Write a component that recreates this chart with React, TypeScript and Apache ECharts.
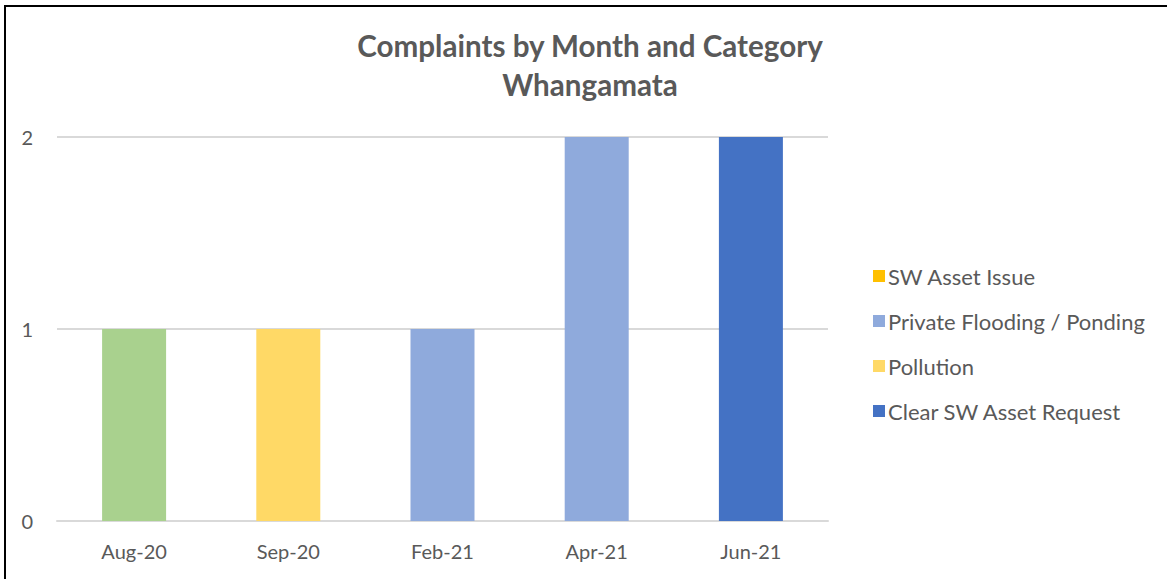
import React, { useEffect, useRef } from "react";
import * as echarts from "echarts";

const months = ["Aug-20", "Sep-20", "Feb-21", "Apr-21", "Jun-21"];
const otherCategory = [1, 0, 0, 0, 0];
const swAssetIssue = [0, 0, 0, 0, 0];
const privateFlooding = [0, 0, 1, 2, 0];
const pollution = [0, 1, 0, 0, 0];
const clearSwAssetRequest = [0, 0, 0, 0, 2];
const yTicks = [0, 1, 2];

const FONT = "Lato";
const TXT = "#595959";

export default function App() {
  const ref = useRef<HTMLDivElement>(null);
  useEffect(() => {
    const chart = echarts.init(ref.current!, null, { renderer: "svg" });
    const toData = (arr: number[]) => arr.map((v) => (v === 0 ? "-" : v));
    const mk = (name: string, arr: number[], color: string) => ({
      name,
      type: "bar",
      stack: "total",
      barWidth: 64,
      data: toData(arr),
      itemStyle: { color },
    });
    chart.setOption({
      animation: false,
      textStyle: { fontFamily: FONT },
      title: {
        text: "Complaints by Month and Category\nWhangamata",
        left: 585,
        textAlign: "center",
        top: 21,
        textStyle: {
          fontFamily: FONT,
          fontSize: 29.6,
          fontWeight: "bold",
          color: TXT,
          lineHeight: 39,
        },
      },
      legend: {
        data: ["SW Asset Issue", "Private Flooding / Ponding", "Pollution", "Clear SW Asset Request"],
        orient: "vertical",
        left: 868,
        top: 259,
        itemWidth: 12,
        itemHeight: 12,
        itemGap: 21,
        icon: "rect",
        textStyle: { fontFamily: FONT, fontSize: 22, lineHeight: 24, color: TXT, padding: [0, 0, 0, -2] },
      },
      grid: { left: 57, right: 339, top: 137, bottom: 58, containLabel: false },
      xAxis: {
        type: "category",
        data: months,
        axisLine: { lineStyle: { color: "#d9d9d9", width: 2 } },
        axisTick: { show: false },
        axisLabel: { color: TXT, fontSize: 20, fontFamily: FONT, margin: 20 },
      },
      yAxis: {
        type: "value",
        min: yTicks[0],
        max: yTicks[yTicks.length - 1],
        interval: 1,
        axisLine: { show: false },
        axisTick: { show: false },
        splitLine: { lineStyle: { color: "#d9d9d9", width: 2 } },
        axisLabel: { color: TXT, fontSize: 20, fontFamily: FONT, margin: 24 },
      },
      series: [
        mk("Other", otherCategory, "#A9D18E"),
        mk("SW Asset Issue", swAssetIssue, "#FFC000"),
        mk("Private Flooding / Ponding", privateFlooding, "#8FAADC"),
        mk("Pollution", pollution, "#FFD966"),
        mk("Clear SW Asset Request", clearSwAssetRequest, "#4472C4"),
      ],
      graphic: [
        { type: "line", shape: { x1: 5, y1: 6, x2: 1167, y2: 6 }, style: { stroke: "#000", lineWidth: 2 } },
        { type: "line", shape: { x1: 5, y1: 5, x2: 5, y2: 579 }, style: { stroke: "#000", lineWidth: 2 } },
      ],
    });
    return () => chart.dispose();
  }, []);
  return (
    <div
      ref={ref}
      style={{ position: "fixed", left: 0, top: 0, width: 1167, height: 579, background: "#fff" }}
    />
  );
}
